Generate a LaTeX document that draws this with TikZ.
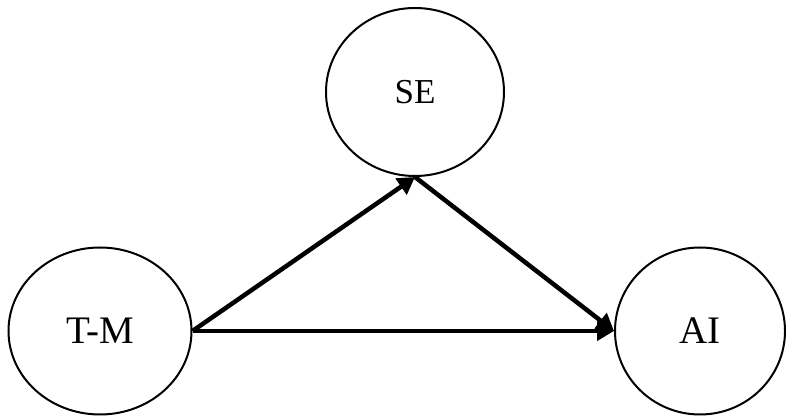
\documentclass[tikz,border=0pt]{standalone}
\usepackage{fontspec}
\setmainfont{Liberation Serif}
\usetikzlibrary{shapes.geometric,arrows.meta}
\tikzset{
  var/.style={ellipse,draw,line width=2pt,inner sep=0pt},
  conn/.style={line width=4.5pt,-{Triangle[length=17pt,width=19pt]}}
}
\begin{document}
\begin{tikzpicture}[x=1pt,y=1pt]
\useasboundingbox (0,0) rectangle (786,417);
\node[var,minimum width=183pt,minimum height=167pt,font=\fontsize{39}{41}\selectfont] (TM) at (100,86) {T-M};
\node[var,minimum width=178pt,minimum height=168pt,font=\fontsize{35}{37}\selectfont] (SE) at (415,325) {SE};
\node[var,minimum width=170pt,minimum height=167pt,font=\fontsize{39}{41}\selectfont] (AI) at (700,86) {AI};
\draw[conn] (TM.east) -- (SE.south);
\draw[conn] (SE.south) -- (AI.west);
\draw[conn] (TM.east) -- (AI.west);
\end{tikzpicture}
\end{document}
